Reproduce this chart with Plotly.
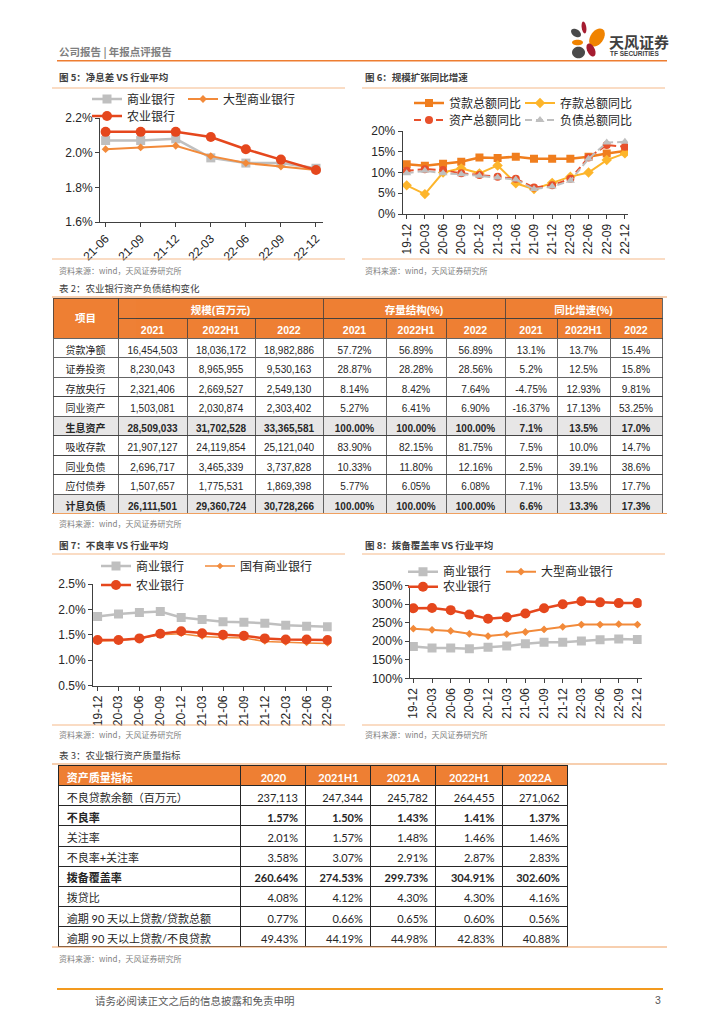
import math
import plotly.graph_objects as go

# ---------------- data ----------------
nim_periods = ['21-06', '21-09', '21-12', '22-03', '22-06', '22-09', '22-12']
nim_commercial = [2.07, 2.07, 2.08, 1.97, 1.94, 1.94, 1.91]
nim_large = [2.02, 2.03, 2.04, 1.98, 1.94, 1.92, 1.90]
nim_abc = [2.12, 2.12, 2.12, 2.09, 2.02, 1.96, 1.90]
nim_ticks = [1.6, 1.8, 2.0, 2.2]

growth_periods = ['19-12', '20-03', '20-06', '20-09', '20-12', '21-03', '21-06',
                  '21-09', '21-12', '22-03', '22-06', '22-09', '22-12']
loans_yoy = [12.0, 11.6, 12.1, 12.6, 13.6, 13.5, 13.8, 13.3, 13.3, 13.3, 13.8, 14.6, 15.2]
deposits_yoy = [6.9, 4.8, 10.0, 11.0, 9.8, 11.7, 7.4, 6.0, 7.5, 9.0, 10.0, 13.0, 14.6]
assets_yoy = [10.4, 10.8, 10.6, 9.8, 9.4, 9.0, 8.5, 6.4, 6.9, 8.5, 13.6, 16.6, 16.2]
liabilities_yoy = [9.8, 10.4, 9.8, 9.6, 9.2, 8.8, 8.3, 6.0, 6.6, 8.0, 13.3, 17.2, 17.4]
growth_ticks = [0, 5, 10, 15, 20]

npl_periods = ['19-12', '20-03', '20-06', '20-09', '20-12', '21-03', '21-06',
               '21-09', '21-12', '22-03', '22-06', '22-09']
npl_commercial = [1.86, 1.91, 1.94, 1.96, 1.84, 1.80, 1.76, 1.75, 1.73, 1.69, 1.67, 1.66]
npl_state = [1.38, 1.39, 1.43, 1.50, 1.52, 1.47, 1.45, 1.44, 1.37, 1.35, 1.34, 1.33]
npl_abc = [1.40, 1.40, 1.43, 1.52, 1.57, 1.53, 1.50, 1.48, 1.43, 1.41, 1.41, 1.40]
npl_ticks = [0.5, 1.0, 1.5, 2.0, 2.5]

cov_periods = growth_periods
cov_commercial = [186, 182, 182, 180, 184, 187, 193, 197, 197, 201, 204, 206, 205]
cov_large = [234, 231, 228, 220, 214, 219, 225, 232, 239, 245, 245, 246, 245]
cov_abc = [289, 290, 284, 272, 261, 265, 275, 289, 300, 308, 305, 303, 303]
cov_ticks = [100, 150, 200, 250, 300, 350]

t2_groups = ['规模(百万元)', '存量结构(%)', '同比增速(%)']
t2_periods = ['2021', '2022H1', '2022']
t2_items = ['贷款净额', '证券投资', '存放央行', '同业资产', '生息资产',
            '吸收存款', '同业负债', '应付债券', '计息负债']
t2_scale_2021 = ['16,454,503', '8,230,043', '2,321,406', '1,503,081', '28,509,033',
                 '21,907,127', '2,696,717', '1,507,657', '26,111,501']
t2_scale_2022h1 = ['18,036,172', '8,965,955', '2,669,527', '2,030,874', '31,702,528',
                   '24,119,854', '3,465,339', '1,775,531', '29,360,724']
t2_scale_2022 = ['18,982,886', '9,530,163', '2,549,130', '2,303,402', '33,365,581',
                 '25,121,040', '3,737,828', '1,869,398', '30,728,266']
t2_struct_2021 = ['57.72%', '28.87%', '8.14%', '5.27%', '100.00%', '83.90%', '10.33%', '5.77%', '100.00%']
t2_struct_2022h1 = ['56.89%', '28.28%', '8.42%', '6.41%', '100.00%', '82.15%', '11.80%', '6.05%', '100.00%']
t2_struct_2022 = ['56.89%', '28.56%', '7.64%', '6.90%', '100.00%', '81.75%', '12.16%', '6.08%', '100.00%']
t2_yoy_2021 = ['13.1%', '5.2%', '-4.75%', '-16.37%', '7.1%', '7.5%', '2.5%', '7.1%', '6.6%']
t2_yoy_2022h1 = ['13.7%', '12.5%', '12.93%', '17.13%', '13.5%', '10.0%', '39.1%', '13.5%', '13.3%']
t2_yoy_2022 = ['15.4%', '15.8%', '9.81%', '53.25%', '17.0%', '14.7%', '38.6%', '17.7%', '17.3%']
t2_blocks = [(0, 4, False), (4, 5, True), (5, 8, False), (8, 9, True)]

t3_header = '资产质量指标'
t3_periods = ['2020', '2021H1', '2021A', '2022H1', '2022A']
t3_metrics = ['不良贷款余额（百万元）', '不良率', '关注率', '不良率+关注率', '拨备覆盖率',
              '拨贷比', '逾期\u00a090\u00a0天以上贷款/贷款总额', '逾期\u00a090\u00a0天以上贷款/不良贷款']
t3_2020 = ['237,113', '1.57%', '2.01%', '3.58%', '260.64%', '4.08%', '0.77%', '49.43%']
t3_2021h1 = ['247,344', '1.50%', '1.57%', '3.07%', '274.53%', '4.12%', '0.66%', '44.19%']
t3_2021a = ['245,782', '1.43%', '1.48%', '2.91%', '299.73%', '4.30%', '0.65%', '44.98%']
t3_2022h1 = ['264,455', '1.41%', '1.46%', '2.87%', '304.91%', '4.30%', '0.60%', '42.83%']
t3_2022a = ['271,062', '1.37%', '1.46%', '2.83%', '302.60%', '4.16%', '0.56%', '40.88%']
t3_blocks = [(0, 1, False), (1, 2, True), (2, 4, False), (4, 5, True), (5, 8, False)]

# ---------------- helpers ----------------
OFF = 8  # page body margin of the html page
W, H = 724 - OFF, 1024 - OFF


def px(v):
    return (v - OFF) / W


def py(v):
    return 1 - (v - OFF) / H


CJK = "Noto Sans CJK SC"
SANS = "Liberation Sans, Noto Sans CJK SC"
RED = "#E5471D"
ORANGE = "#F28A3A"
GRAYL = "#BFBFBF"
LOAN = "#F07E1E"
DEPO = "#FDB52B"
ASSET = "#E8502B"
AX = "#404040"
T_ORANGE = "#EE7F33"
T_GRAY = "#E7E6E6"
TXT = "#262626"

fig = go.Figure()


def add_series(x, y, name, color, symbol, msize, width, xa, ya, legend, dash='solid'):
    fig.add_trace(go.Scatter(
        x=x, y=y, name=name, mode='lines+markers',
        line=dict(color=color, width=width, dash=dash),
        marker=dict(symbol=symbol, size=msize, color=color, line=dict(width=0)),
        xaxis=xa, yaxis=ya, legend=legend, hoverinfo='skip'))


# chart 5
add_series(nim_periods, nim_commercial, '商业银行', GRAYL, 'square', 9, 2.5, 'x', 'y', 'legend')
add_series(nim_periods, nim_large, '大型商业银行', ORANGE, 'diamond', 6, 2, 'x', 'y', 'legend2')
add_series(nim_periods, nim_abc, '农业银行', RED, 'circle', 10, 2.5, 'x', 'y', 'legend3')
# chart 6
add_series(growth_periods, loans_yoy, '贷款总额同比', LOAN, 'square', 8, 2.5, 'x2', 'y2', 'legend4')
add_series(growth_periods, deposits_yoy, '存款总额同比', DEPO, 'diamond', 8, 2, 'x2', 'y2', 'legend5')
add_series(growth_periods, assets_yoy, '资产总额同比', ASSET, 'circle', 8, 2, 'x2', 'y2', 'legend6', dash='7px,4px')
add_series(growth_periods, liabilities_yoy, '负债总额同比', GRAYL, 'triangle-up', 8, 2, 'x2', 'y2', 'legend7', dash='7px,4px')
# chart 7
add_series(npl_periods, npl_commercial, '商业银行', GRAYL, 'square', 9, 2.5, 'x3', 'y3', 'legend8')
add_series(npl_periods, npl_state, '国有商业银行', ORANGE, 'diamond', 5, 1.5, 'x3', 'y3', 'legend9')
add_series(npl_periods, npl_abc, '农业银行', RED, 'circle', 10, 2.5, 'x3', 'y3', 'legend10')
# chart 8
add_series(cov_periods, cov_commercial, '商业银行', GRAYL, 'square', 9, 2.5, 'x4', 'y4', 'legend11')
add_series(cov_periods, cov_large, '大型商业银行', ORANGE, 'diamond', 6, 2, 'x4', 'y4', 'legend12')
add_series(cov_periods, cov_abc, '农业银行', RED, 'circle', 10, 2.5, 'x4', 'y4', 'legend13')

layout = dict(template='none', width=W, height=H, margin=dict(l=0, r=0, t=0, b=0, pad=0),
              autosize=False, paper_bgcolor='white', plot_bgcolor='rgba(0,0,0,0)',
              showlegend=True)


def axes(n, x0, x1, y0, y1, xr, yr, yticks, fmt, angle):
    sx = '' if n == 1 else str(n)
    common = dict(showline=True, linecolor=AX, linewidth=1, ticks='outside', ticklen=4,
                  tickcolor=AX, showgrid=False, zeroline=False, fixedrange=True,
                  automargin=False, tickfont=dict(family=SANS, size=12, color=TXT))
    layout['xaxis' + sx] = dict(domain=[px(x0), px(x1)], anchor='y' + sx, type='category',
                                range=xr, tickangle=angle, **common)
    layout['yaxis' + sx] = dict(domain=[py(y1), py(y0)], anchor='x' + sx, range=yr,
                                tickmode='array', tickvals=yticks,
                                ticktext=[format(v, fmt) + '%' for v in yticks], **common)


axes(1, 100, 323, 118, 222, [-0.16, 6.2], [1.6, 2.2], nim_ticks, '.1f', -45)
axes(2, 402.7, 628, 131, 214, [-0.22, 12.17], [0, 20], growth_ticks, 'd', -90)
axes(3, 93, 331.7, 584, 685.7, [-0.22, 11.2], [0.5, 2.5], npl_ticks, '.1f', -90)
axes(4, 410, 641.7, 585.7, 678.3, [-0.18, 12.23], [100, 350], cov_ticks, 'd', -90)

# legend entries: (text start x, row centre y)
legend_pos = [(127, 99), (223, 99), (127, 116),
              (449, 103), (560, 103), (449, 120), (560, 120),
              (136, 566), (240, 566), (136, 585),
              (443, 571.7), (541, 571.7), (443, 586.7)]
for i, (lx, ly) in enumerate(legend_pos):
    key = 'legend' if i == 0 else 'legend' + str(i + 1)
    layout[key] = dict(x=px(lx - 40), y=py(ly), xanchor='left', yanchor='middle',
                       orientation='h', bgcolor='rgba(0,0,0,0)', borderwidth=0,
                       font=dict(family=CJK, size=12, color=TXT), itemwidth=30)


# ---------------- tables ----------------
def table_part(edges, top, first_vals, first_h, first_style, rest_cols, rest_h, rest_style, line):
    widths = [edges[i + 1] - edges[i] for i in range(len(edges) - 1)]
    nrest = len(rest_cols[0])
    bottom = top + first_h + nrest * rest_h + 8
    fig.add_trace(go.Table(
        domain=dict(x=[px(edges[0]), px(edges[-1])], y=[max(py(bottom), 0), py(top)]),
        columnwidth=widths,
        header=dict(values=first_vals, height=first_h, line=line, **first_style),
        cells=dict(values=rest_cols, height=max(rest_h, 1), line=line, **rest_style)))


def style(fill, family, size, weight, align, color=TXT):
    return dict(fill_color=fill, align=align,
                font=dict(family=family, size=size, color=color, weight=weight))


# table 2
t2_edges = [53, 118, 187, 255, 323, 386, 446, 505, 557, 610, 662]
t2_cols = [t2_items, t2_scale_2021, t2_scale_2022h1, t2_scale_2022,
           t2_struct_2021, t2_struct_2022h1, t2_struct_2022,
           t2_yoy_2021, t2_yoy_2022h1, t2_yoy_2022]
LINE2 = dict(color='#3F3F3F', width=0.8)
T2_TOP, T2_H = 338, 19.5
hdr2 = style(T_ORANGE, SANS, 10.5, 'bold', 'center', 'white')
table_part(t2_edges, 318, [''] + [p for _ in t2_groups for p in t2_periods], 20, hdr2,
           [[] for _ in t2_cols], 1, hdr2, LINE2)
table_part([118, 323, 505, 662], 298, t2_groups, 20, hdr2, [[], [], []], 1, hdr2, LINE2)
table_part([53, 118], 298, [''], 40, hdr2, [[]], 1, hdr2, LINE2)
for (r0, r1, is_total) in t2_blocks:
    st = style(T_GRAY if is_total else 'white', SANS, 10, 'bold' if is_total else 'normal', 'center')
    table_part(t2_edges, T2_TOP + r0 * T2_H, [c[r0] for c in t2_cols], T2_H, st,
               [c[r0 + 1:r1] for c in t2_cols], T2_H, st, LINE2)

# table 3
t3_edges = [58.7, 241, 306, 371, 436, 502.6, 567.8]
t3_cols = [t3_metrics, t3_2020, t3_2021h1, t3_2021a, t3_2022h1, t3_2022a]
LINE3 = dict(color='#262626', width=1)
T3F = "Lato, Noto Sans CJK SC"
T3_TOP, T3_H = 785.7, 20.1
table_part(t3_edges, 765.7, [t3_header] + t3_periods, 20,
           style(T_ORANGE, T3F, 11, 'bold', ['left'] + ['center'] * 5, 'white'),
           [[] for _ in t3_cols], 1, style('white', T3F, 11, 'normal', 'left'), LINE3)
for (r0, r1, is_bold) in t3_blocks:
    st = style('white', T3F, 11, 'bold' if is_bold else 'normal', ['left'] + ['right'] * 5)
    table_part(t3_edges, T3_TOP + r0 * T3_H, [c[r0] for c in t3_cols], T3_H, st,
               [c[r0 + 1:r1] for c in t3_cols], T3_H, st, LINE3)

# ---------------- texts & lines ----------------
ann = []
shapes = []


def text(x, y, s, size, color, bold_=False, family=CJK, anchor='left'):
    ann.append(dict(x=px(x), y=py(y), xref='paper', yref='paper', showarrow=False,
                    xanchor=anchor, yanchor='middle',
                    text='<b>%s</b>' % s if bold_ else s,
                    font=dict(family=family, size=size, color=color)))


def hline(x0, x1, y, color, width):
    shapes.append(dict(type='line', xref='paper', yref='paper', x0=px(x0), x1=px(x1),
                       y0=py(y), y1=py(y), line=dict(color=color, width=width)))


text(57, 51.5, '公司报告 | 年报点评报告', 10.5, '#7F7F7F', True)
hline(57, 667, 60.7, '#EE7D31', 1.5)

SRC = '资料来源：wind，天风证券研究所'
TITLE_C = '#404040'
LT = '#F6B98A'
for (x, y, s) in [(57, 77, '图 5：净息差 VS 行业平均'), (363, 77, '图 6：规模扩张同比增速'),
                  (57, 545, '图 7：不良率 VS 行业平均'), (363, 545, '图 8：拨备覆盖率 VS 行业平均')]:
    text(x, y, s, 9.5, TITLE_C, True)
for (x0, x1, y) in [(52, 345, 88), (362, 665, 88), (52, 345, 554), (362, 665, 554),
                    (52, 345, 259), (362, 665, 259), (52, 345, 725), (362, 665, 725)]:
    hline(x0, x1, y, LT, 1.2)
for (x, y) in [(57, 270), (363, 270), (57, 523), (57, 734), (363, 734), (57, 958)]:
    text(x, y, SRC, 8, '#7F7F7F')

text(57, 288, '表 2：农业银行资产负债结构变化', 9.5, TITLE_C)
text(57, 755, '表 3：农业银行资产质量指标', 9.5, TITLE_C)
text(85.5, 318, '项目', 10.5, 'white', True, family=SANS, anchor='center')
for y in [297, 513.5, 764, 947]:
    hline(52, 667, y, '#F0A060', 1.2)

# footer
hline(57, 663, 989, '#F39A1E', 2)
text(93, 1000, '请务必阅读正文之后的信息披露和免责申明', 10.5, '#595959')
text(663, 1000, '3', 10.5, '#595959', family=SANS, anchor='right')


# logo
def ellipse(cx, cy, rx, ry, ang, color):
    a = math.radians(ang)
    pts = []
    for k in range(28):
        t = 2 * math.pi * k / 28
        ex, ey = rx * math.cos(t), ry * math.sin(t)
        X = cx + ex * math.cos(a) - ey * math.sin(a)
        Y = cy + ex * math.sin(a) + ey * math.cos(a)
        pts.append('%.5f,%.5f' % (px(X), py(Y)))
    shapes.append(dict(type='path', xref='paper', yref='paper',
                       path='M' + 'L'.join(pts) + 'Z', fillcolor=color,
                       line=dict(width=0)))


ellipse(584, 27.5, 2.3, 6, -8, '#A51C30')
ellipse(576, 33, 5.5, 3.6, 35, '#4A4A4A')
ellipse(597, 37.5, 6.5, 10, 35, '#F08300')
ellipse(577.5, 42.5, 5.5, 2.8, 0, '#F08300')
ellipse(591, 50, 3.8, 7, -25, '#A51C30')
ellipse(578.5, 52.5, 6.5, 5.8, 0, '#4A4A4A')
text(607, 41.5, '天风证券', 15, '#404040', True)
text(608, 53.5, 'TF SECURITIES', 6.5, '#404040', True, family=SANS)

layout['annotations'] = ann
layout['shapes'] = shapes
fig.update_layout(**layout)
fig.write_html("out.html")
